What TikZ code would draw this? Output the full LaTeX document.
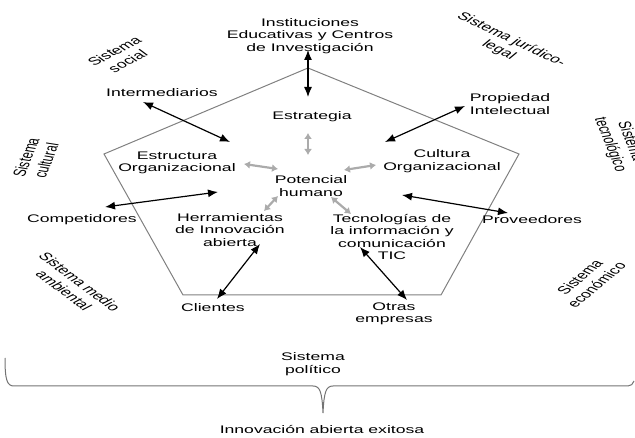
\documentclass[tikz,border=0pt]{standalone}
\usepackage{fontspec}
\setmainfont{Liberation Sans}[FakeStretch=1.6]
\newfontfamily\rotfont{Liberation Sans}
\usetikzlibrary{arrows.meta}
\begin{document}
\begin{tikzpicture}[x=1pt,y=-1pt,
  lbl/.style={align=center, font=\fontsize{11}{12.5}\selectfont, inner sep=0pt},
  rlbl/.style={align=center, font=\rotfont\fontsize{11}{13}\selectfont, inner sep=0pt, xscale=1.6},
  blk/.style={{Latex[length=10pt,width=8pt]}-{Latex[length=10pt,width=8pt]}, line width=1.2pt, black},
  gry/.style={{Latex[length=6pt,width=8pt]}-{Latex[length=6pt,width=8pt]}, line width=2.2pt, black!33},
  pent/.style={draw=black!50, line width=1pt},
  brace/.style={draw=black!55, line width=1pt}
]
\useasboundingbox (0,0) rectangle (635,438);

% pentagon
\coordinate (p1) at (308,68);
\coordinate (p2) at (519,154);
\coordinate (p3) at (441,295);
\coordinate (p4) at (183,295);
\coordinate (p5) at (104,154);
\draw[pent] (p1) -- (p2) -- (p3) -- (p4) -- (p5) -- cycle;

% labels
\node[lbl] (inst) at (310,36) {Instituciones\\Educativas y Centros\\de Investigación};
\node[lbl] (estr) at (312,117) {Estrategia};
\node[lbl] (pot) at (311,186) {Potencial\\humano};
\node[lbl] (estruc) at (177,163) {Estructura\\Organizacional};
\node[lbl] (cult) at (442,161) {Cultura\\Organizacional};
\node[lbl] (inter) at (162,93) {Intermediarios};
\node[lbl] (prop) at (510,104) {Propiedad\\Intelectual};
\node[lbl] (comp) at (82,220) {Competidores};
\node[lbl] (prov) at (532,220) {Proveedores};
\node[lbl] (herr) at (230,230) {Herramientas\\de Innovación\\abierta};
\node[lbl] (tic) at (392,237) {Tecnologías de\\la información y\\comunicación\\TIC};
\node[lbl] (cli) at (213,308) {Clientes};
\node[lbl] (otras) at (394,314) {Otras\\empresas};
\node[lbl] (pol) at (313,364) {Sistema\\político};
\node[lbl] (exit) at (322,430) {Innovación abierta exitosa};

% rotated system labels
\node[rlbl, rotate=40] (soc) at (121,56) {Sistema\\social};
\node[rlbl, rotate=-37] (jur) at (505,45) {Sistema jurídico-\\legal};
\node[rlbl, rotate=76] (cul) at (36,159) {Sistema\\cultural};
\node[rlbl, rotate=-76] (tec) at (620,143) {Sistema\\tecnológico};
\node[rlbl, rotate=-50] (amb) at (72,286) {Sistema medio\\ambiental};
\node[rlbl, rotate=53] (eco) at (588,281) {Sistema\\económico};

% black arrow end points
\coordinate (a1s) at (308,50);  \coordinate (a1e) at (308,97);
\coordinate (a2s) at (143,102); \coordinate (a2e) at (230,142);
\coordinate (a3s) at (465,106); \coordinate (a3e) at (385,142);
\coordinate (a4s) at (105,207); \coordinate (a4e) at (218,192);
\coordinate (a5s) at (508,213); \coordinate (a5e) at (402,195);
\coordinate (a6s) at (260,244); \coordinate (a6e) at (217,299);
\coordinate (a7s) at (360,247); \coordinate (a7e) at (407,300);
\draw[blk] (a1s) -- (a1e);
\draw[blk] (a2s) -- (a2e);
\draw[blk] (a3s) -- (a3e);
\draw[blk] (a4s) -- (a4e);
\draw[blk] (a5s) -- (a5e);
\draw[blk] (a6s) -- (a6e);
\draw[blk] (a7s) -- (a7e);

% gray arrows
\coordinate (g1s) at (308,133); \coordinate (g1e) at (308,155);
\coordinate (g2s) at (244,164); \coordinate (g2e) at (278,169);
\coordinate (g3s) at (344,170); \coordinate (g3e) at (376,165);
\coordinate (g4s) at (278,196); \coordinate (g4e) at (264,211);
\coordinate (g5s) at (331,197); \coordinate (g5e) at (351,214);
\draw[gry] (g1s) -- (g1e);
\draw[gry] (g2s) -- (g2e);
\draw[gry] (g3s) -- (g3e);
\draw[gry] (g4s) -- (g4e);
\draw[gry] (g5s) -- (g5e);

% brace
\coordinate (bl) at (5,358);
\coordinate (bt) at (323,413);
\coordinate (br) at (634,381);
\draw[brace] (bl) .. controls (5,380) and (7,386) .. (14,386) -- (313,386)
  .. controls (320,386) and (322,392) .. (bt)
  .. controls (324,392) and (326,386) .. (333,386) -- (628,386)
  .. controls (631,386) and (633,384) .. (br);
\end{tikzpicture}
\end{document}
